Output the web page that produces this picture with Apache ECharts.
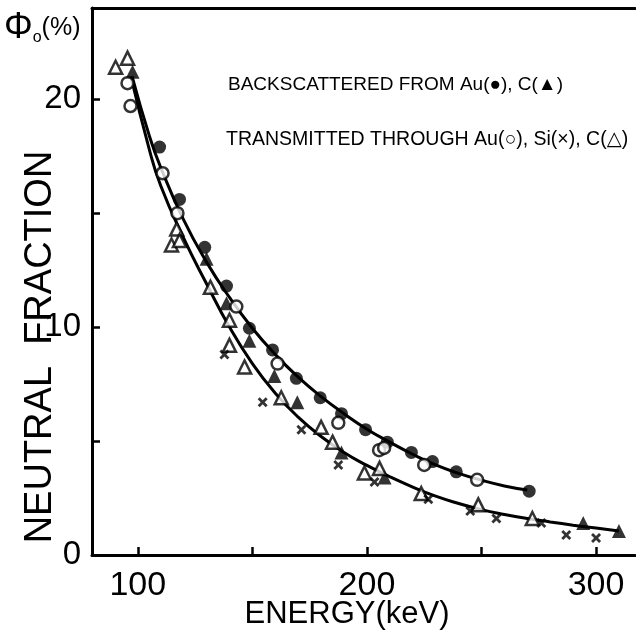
<!DOCTYPE html>
<html>
<head>
<meta charset="utf-8">
<script src="https://cdn.jsdelivr.net/npm/echarts@6/dist/echarts.min.js"></script>
<style>
html,body{margin:0;padding:0;background:#fff;}
#chart{width:636px;height:640px;}
</style>
</head>
<body>
<div id="chart"></div>
<script>
// ---- data (energy keV, neutral fraction %) ----
const xTicks = [100, 150, 200, 250, 300];
const xLabels = [100, 200, 300];
const yTicks = [0, 5, 10, 15, 20];
const yLabels = [0, 10, 20];

// backscattered from Au (filled circles)
const auBack = [[109.5,17.9],[118.2,15.6],[129.2,13.5],[138.7,11.8],[148.7,9.95],[158.8,9.0],[169.2,7.75],[179.6,6.9],[188.9,6.2],[199.4,5.5],[208.9,4.95],[219.4,4.5],[228.6,4.1],[239,3.65],[270.8,2.8]];
// backscattered from C (filled triangles)
const cBack = [[97.7,21.2],[130,13.0],[138.7,11.05],[148.7,9.4],[159.6,7.85],[169.6,6.7],[188.9,4.5],[207.7,3.4],[294.4,1.4],[310,1.05]];
// transmitted through Au (open circles)
const auTrans = [[95.5,20.7],[96.8,19.7],[110.8,16.75],[117.3,15.0],[143,10.9],[161,8.4],[187.5,5.8],[205.3,4.6],[207.5,4.7],[225,3.95],[248.1,3.3]];
// transmitted through C (open triangles)
const cTrans = [[90.3,21.4],[95.5,21.8],[114.7,13.6],[117,14.3],[118.2,13.8],[131.7,11.75],[140,10.3],[140,9.2],[146.6,8.25],[162.6,6.9],[180,5.6],[185,4.95],[198.9,3.6],[205.5,3.8],[223.7,2.7],[248.6,2.2],[272.2,1.6]];
// transmitted through Si (crosses)
const siTrans = [[137.8,8.8],[154.5,6.7],[171.4,5.5],[187.5,3.95],[203.3,3.2],[226.8,2.45],[245.1,1.93],[256.5,1.6],[276.1,1.4],[287,0.88],[300,0.75]];

// fitted curves
const upperCurve = [[97.5,21.0],[105,18.4],[110,17.0],[120,14.7],[130,12.85],[140,11.3],[150,9.95],[160,8.8],[170,7.8],[180,6.95],[190,6.2],[200,5.52],[210,4.95],[220,4.42],[230,3.95],[240,3.58],[250,3.28],[260,3.03],[270,2.85]];
const lowerCurve = [[97,21.0],[105,17.8],[110,16.2],[120,13.9],[130,11.9],[140,10.0],[150,8.4],[160,7.1],[170,6.05],[180,5.2],[190,4.5],[200,3.93],[210,3.43],[220,2.98],[230,2.58],[240,2.26],[250,1.99],[260,1.78],[270,1.6],[280,1.45],[290,1.31],[300,1.18],[310,1.05]];

const FONT = '"Liberation Sans", "DejaVu Sans", Arial, sans-serif';
const crossPath = 'path://M2,0 L5,3 L8,0 L10,2 L7,5 L10,8 L8,10 L5,7 L2,10 L0,8 L3,5 L0,2 Z';

const chart = echarts.init(document.getElementById('chart'), null, {renderer: 'canvas'});

function scatter(name, data, symbol, size, filled) {
  return {
    name, type: 'scatter', data, symbol, symbolSize: size,
    itemStyle: filled ? {color: '#000'} : {color: '#fff', borderColor: '#000', borderWidth: 2.5},
    z: 5
  };
}

chart.setOption({
  backgroundColor: '#fff',
  animation: false,
  grid: {left: 92, right: 1, top: 8, bottom: 85},
  xAxis: [{
    type: 'value', min: 80, max: 317,
    axisLine: {show: true, lineStyle: {color: '#000', width: 3}},
    axisTick: {show: true, inside: true, length: 8, customValues: xTicks, lineStyle: {color: '#000', width: 2.5}},
    axisLabel: {customValues: xLabels, color: '#000', fontFamily: FONT, fontSize: 34, margin: 14},
    splitLine: {show: false}
  }, {
    type: 'value', min: 80, max: 317, position: 'top',
    axisLine: {show: true, onZero: false, lineStyle: {color: '#000', width: 3}},
    axisTick: {show: false}, axisLabel: {show: false}, splitLine: {show: false}
  }],
  yAxis: {
    type: 'value', min: 0, max: 24,
    axisLine: {show: true, lineStyle: {color: '#000', width: 3}},
    axisTick: {show: true, inside: true, length: 8, customValues: yTicks, lineStyle: {color: '#000', width: 2.5}},
    axisLabel: {customValues: yLabels, color: '#000', fontFamily: FONT, fontSize: 33, margin: 11},
    splitLine: {show: false}
  },
  graphic: [
    {type: 'text', left: 4, top: 10, style: {
      text: '{p|Φ}{s|o}{t|(%)}',
      rich: {
        p: {fontFamily: FONT, fontSize: 36, fill: '#000'},
        s: {fontFamily: FONT, fontSize: 16, fill: '#000', verticalAlign: 'bottom', padding: [14, 0, 0, 0]},
        t: {fontFamily: FONT, fontSize: 25, fill: '#000'}
      }
    }},
    {type: 'text', x: 41, y: 347, rotation: Math.PI / 2, style: {
      text: 'NEUTRAL  FRACTION', fontFamily: FONT, fontSize: 38, fill: '#000',
      align: 'center', verticalAlign: 'middle'
    }},
    {type: 'text', x: 347, y: 614, style: {
      text: 'ENERGY(keV)', fontFamily: FONT, fontSize: 31, fill: '#000',
      align: 'center', verticalAlign: 'middle'
    }},
    {type: 'text', left: 228, top: 75, style: {
      text: 'BACKSCATTERED FROM Au(●), C(▲)', fontFamily: FONT, fontSize: 19, fill: '#000'
    }},
    {type: 'text', left: 226, top: 130, style: {
      text: 'TRANSMITTED THROUGH Au(○), Si(×), C(△)', fontFamily: FONT, fontSize: 19.5, fill: '#000'
    }}
  ],
  series: [
    {name: 'upper', type: 'line', data: upperCurve, smooth: 0.5, showSymbol: false, symbol: 'none',
     lineStyle: {color: '#000', width: 3}, z: 3},
    {name: 'lower', type: 'line', data: lowerCurve, smooth: 0.5, showSymbol: false, symbol: 'none',
     lineStyle: {color: '#000', width: 3}, z: 3},
    scatter('Au back', auBack, 'circle', 13, true),
    scatter('C back', cBack, 'triangle', 14, true),
    scatter('Au trans', auTrans, 'circle', 12, false),
    scatter('C trans', cTrans, 'triangle', 13, false),
    scatter('Si trans', siTrans, crossPath, 10, true)
  ]
});
</script>
</body>
</html>
